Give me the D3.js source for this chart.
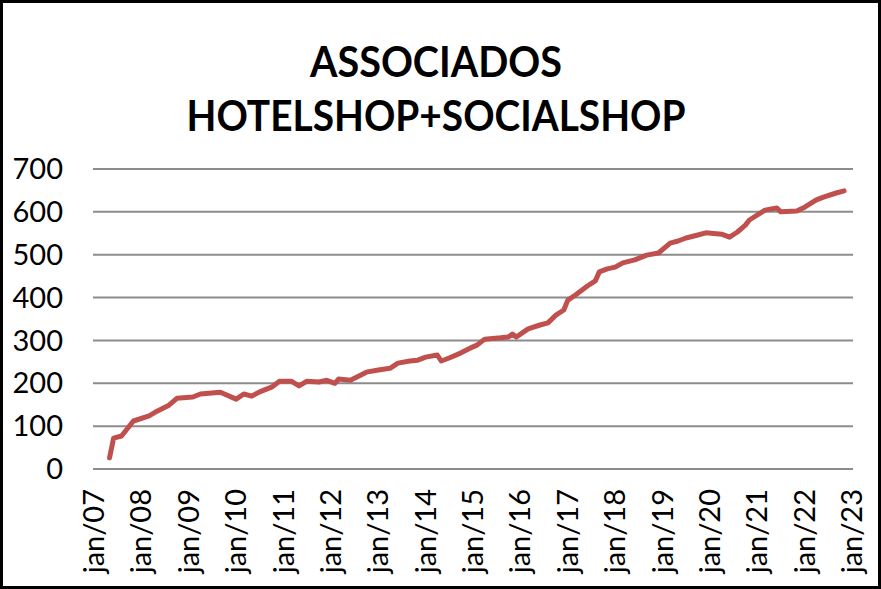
<!DOCTYPE html>
<html>
<head>
<meta charset="utf-8">
<script src="https://cdn.jsdelivr.net/npm/d3@7"></script>
<style>
  html, body { margin: 0; padding: 0; background: #fff; }
  svg { display: block; }
</style>
</head>
<body>
<svg id="chart" width="881" height="589"></svg>
<script>
const titleLines = ["ASSOCIADOS", "HOTELSHOP+SOCIALSHOP"];
const months = [
  "2007-05","2007-06","2007-08","2007-11","2008-03","2008-05","2008-08","2008-10",
  "2009-02","2009-04","2009-09","2010-01","2010-03","2010-05","2010-07","2010-10",
  "2010-12","2011-03","2011-05","2011-07","2011-10","2011-12","2012-02","2012-03",
  "2012-06","2012-07","2012-10","2013-01","2013-04","2013-06","2013-09","2013-11",
  "2014-01","2014-04","2014-05","2014-07","2014-10","2015-01","2015-02","2015-04",
  "2015-08","2015-10","2015-11","2015-12","2016-03","2016-06","2016-08","2016-10",
  "2016-12","2017-01","2017-03","2017-06","2017-08","2017-09","2017-11","2018-01",
  "2018-03","2018-06","2018-09","2018-12","2019-03","2019-05","2019-07","2019-10",
  "2019-12","2020-04","2020-06","2020-08","2020-10","2020-11","2021-03","2021-06",
  "2021-07","2021-11","2022-01","2022-04","2022-06","2022-09","2022-11"
];
const associados = [
  26,72,77,112,124,135,149,165,
  168,175,179,163,175,170,180,191,
  205,205,194,205,203,207,200,210,
  207,212,226,231,235,247,252,254,
  261,266,252,259,271,285,289,303,
  306,308,315,308,327,336,341,359,
  371,394,406,427,439,460,467,471,
  481,488,499,504,527,532,539,546,
  551,548,541,553,569,581,604,609,
  600,602,611,628,635,644,649
];
const yTicks = [0,100,200,300,400,500,600,700];
const xTickYears = d3.range(2007, 2024);
const xTickLabels = xTickYears.map(y => "jan/" + String(y).slice(2));

const svg = d3.select("#chart");
const W = 881, H = 589;
const parse = d3.timeParse("%Y-%m");
const data = months.map((m, i) => ({ date: parse(m), value: associados[i] }));

const x = d3.scaleTime()
  .domain([new Date(2007, 0, 1), new Date(2023, 0, 1)])
  .range([94, 852]);
const y = d3.scaleLinear().domain([0, 700]).range([469, 169]);

// background + border
svg.append("rect").attr("x", 1.5).attr("y", 1.5).attr("width", W - 3).attr("height", H - 3)
  .attr("fill", "#fff").attr("stroke", "#000").attr("stroke-width", 3);

// gridlines
svg.append("g").selectAll("line").data(yTicks).join("line")
  .attr("x1", 93).attr("x2", 853)
  .attr("y1", d => y(d)).attr("y2", d => y(d))
  .attr("stroke", "#8c8c8c").attr("stroke-width", 2);

// y labels
svg.append("g").selectAll("text").data(yTicks).join("text")
  .attr("x", 63).attr("y", d => y(d)).attr("dy", "0.35em")
  .attr("text-anchor", "end")
  .attr("font-family", "Lato, 'Liberation Sans', sans-serif")
  .attr("font-size", 29).attr("fill", "#000")
  .text(d => d);

// x labels
svg.append("g").selectAll("text").data(xTickYears).join("text")
  .attr("transform", d => `translate(${x(new Date(d, 0, 1))},489) rotate(-90)`)
  .attr("dy", "0.35em")
  .attr("text-anchor", "end")
  .attr("font-family", "Lato, 'Liberation Sans', sans-serif")
  .attr("font-size", 29).attr("fill", "#000")
  .text((d, i) => xTickLabels[i]);

// line
const line = d3.line().x(d => x(d.date)).y(d => y(d.value));
svg.append("path").datum(data)
  .attr("d", line)
  .attr("fill", "none")
  .attr("stroke", "#c0504d")
  .attr("stroke-width", 5)
  .attr("stroke-linejoin", "round")
  .attr("stroke-linecap", "round");

// title
const titleWidths = [252, 499];
svg.append("g").selectAll("text").data(titleLines).join("text")
  .attr("x", 436).attr("y", (d, i) => 77 + i * 54)
  .attr("text-anchor", "middle")
  .attr("font-family", "Lato, 'Liberation Sans', sans-serif")
  .attr("font-weight", "bold")
  .attr("font-size", 42).attr("fill", "#000")
  .attr("textLength", (d, i) => titleWidths[i])
  .attr("lengthAdjust", "spacingAndGlyphs")
  .text(d => d);
</script>
</body>
</html>
